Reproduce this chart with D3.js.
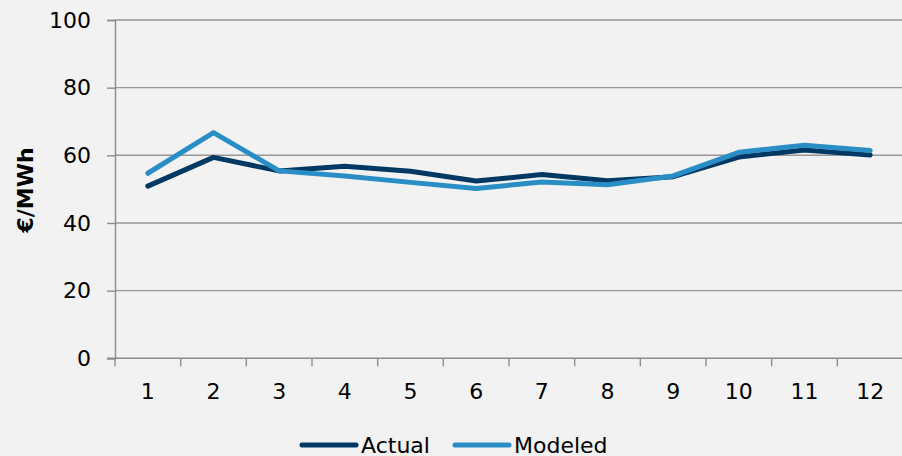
<!DOCTYPE html>
<html>
<head>
<meta charset="utf-8">
<script src="https://cdn.jsdelivr.net/npm/d3@7"></script>
<style>
  html, body { margin: 0; padding: 0; background: #f2f2f2; }
  svg { display: block; }
</style>
</head>
<body>
<svg id="chart" width="902" height="456"></svg>
<script>
// Monthly prices, €/MWh
const months = [1, 2, 3, 4, 5, 6, 7, 8, 9, 10, 11, 12];
const actual = [50.9, 59.4, 55.4, 56.8, 55.3, 52.4, 54.3, 52.5, 53.7, 59.5, 61.6, 60.1];
const modeled = [54.7, 66.7, 55.4, 53.9, 52.0, 50.2, 52.1, 51.3, 53.9, 60.9, 63.0, 61.4];
const yTicks = [0, 20, 40, 60, 80, 100];
const seriesNames = ["Actual", "Modeled"];
const seriesColors = ["#003864", "#2a8ec6"];

const svg = d3.select("#chart");
const W = 902, H = 456;
const plotLeft = 115, plotRight = 903, plotTop = 20, plotBottom = 358.3;
const font = "'DejaVu Sans', sans-serif";

svg.append("rect").attr("width", W).attr("height", H).attr("fill", "#f2f2f2");

const x = d3.scaleBand().domain(months).range([plotLeft, plotRight]).padding(0);
const y = d3.scaleLinear().domain([0, 100]).range([plotBottom, plotTop]);
const cx = d => x(d) + x.bandwidth() / 2;

// horizontal gridlines
svg.append("g")
  .selectAll("line")
  .data(yTicks.filter(t => t > 0))
  .join("line")
  .attr("x1", plotLeft).attr("x2", W)
  .attr("y1", d => y(d)).attr("y2", d => y(d))
  .attr("stroke", "#969696").attr("stroke-width", 1.4);

// y axis
const yAxis = svg.append("g")
  .attr("transform", `translate(${plotLeft},0)`)
  .call(d3.axisLeft(y).tickValues(yTicks).tickSize(8).tickPadding(16));
yAxis.select(".domain").attr("stroke", "#8c8c8c").attr("stroke-width", 1.4);
yAxis.selectAll(".tick line").attr("stroke", "#8c8c8c").attr("stroke-width", 1.4);
yAxis.selectAll(".tick text")
  .attr("font-family", font).attr("font-size", 22).attr("fill", "#000");

// x axis with ticks on the category boundaries
const xAxisG = svg.append("g").attr("transform", `translate(0,${plotBottom})`);
xAxisG.append("line")
  .attr("x1", plotLeft - 8).attr("x2", W)
  .attr("stroke", "#8c8c8c").attr("stroke-width", 1.4);
xAxisG.selectAll("line.tk")
  .data(months.concat([null]))
  .join("line").attr("class", "tk")
  .attr("x1", (d, i) => plotLeft + i * x.bandwidth())
  .attr("x2", (d, i) => plotLeft + i * x.bandwidth())
  .attr("y1", 0).attr("y2", 8)
  .attr("stroke", "#8c8c8c").attr("stroke-width", 1.4);
xAxisG.selectAll("text")
  .data(months)
  .join("text")
  .attr("x", d => cx(d))
  .attr("y", 33)
  .attr("dy", "0.35em")
  .attr("text-anchor", "middle")
  .attr("font-family", font).attr("font-size", 22).attr("fill", "#000")
  .text(d => d);

// y axis title
svg.append("text")
  .attr("transform", "translate(33,190) rotate(-90)")
  .attr("text-anchor", "middle")
  .attr("font-family", font).attr("font-size", 22).attr("font-weight", "bold")
  .attr("fill", "#000")
  .text("€/MWh");

// series lines
const line = d3.line().x((d, i) => cx(months[i])).y(d => y(d));
[actual, modeled].forEach((vals, k) => {
  svg.append("path")
    .datum(vals)
    .attr("d", line)
    .attr("fill", "none")
    .attr("stroke", seriesColors[k])
    .attr("stroke-width", 5)
    .attr("stroke-linejoin", "round")
    .attr("stroke-linecap", "round");
});

// legend
const legendPos = [302, 455];
seriesNames.forEach((name, k) => {
  const g = svg.append("g").attr("transform", `translate(${legendPos[k]},445)`);
  g.append("line")
    .attr("x1", 0).attr("x2", 54)
    .attr("stroke", seriesColors[k]).attr("stroke-width", 5)
    .attr("stroke-linecap", "round");
  g.append("text")
    .attr("x", 59).attr("dy", "0.35em")
    .attr("font-family", font).attr("font-size", 22).attr("fill", "#000")
    .text(name);
});
</script>
</body>
</html>
